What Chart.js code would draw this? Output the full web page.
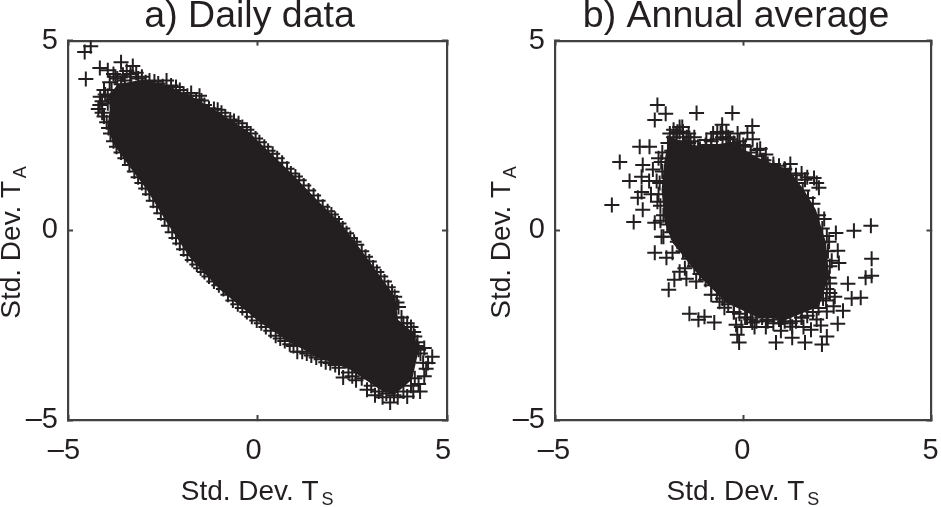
<!DOCTYPE html>
<html><head><meta charset="utf-8">
<script src="https://cdn.jsdelivr.net/npm/chart.js@4/dist/chart.umd.js"></script>
<style>
html,body{margin:0;padding:0;background:#fff;width:941px;height:507px;overflow:hidden}
canvas{position:absolute;top:0}
#c1{left:0}
#c2{left:487px}
</style></head><body>
<canvas id="c1" width="470" height="507"></canvas>
<canvas id="c2" width="454" height="507"></canvas>
<script>
const tickValues = [-5, 0, 5];
const tickLabels = {'-5': '–5', '0': '0', '5': '5'};
const titleA = 'a) Daily data';
const titleB = 'b) Annual average';
const xLabel = 'Std. Dev. T';
const yLabel = 'Std. Dev. T';
const xSub = 'S';
const ySub = 'A';

// Solid, saturated part of each point cloud (outline)
const dailyCoreX = [-3.90,-3.92,-3.69,-3.10,-2.39,-1.70,-0.91,-0.20,0.12,0.86,1.65,2.18,2.79,3.63,3.71,4.11,4.24,4.08,3.60,3.24,2.44,1.57,0.86,0.07,-0.99,-1.78,-2.39,-2.92,-3.37,-3.82,-3.95];
const dailyCoreY = [3.17,3.55,3.85,3.96,3.83,3.51,3.04,2.57,2.25,1.54,0.72,0.20,-0.59,-1.75,-2.36,-2.70,-3.22,-3.93,-4.35,-4.20,-3.67,-3.33,-2.96,-2.43,-1.57,-0.72,0.20,1.07,1.67,2.30,2.78];
const annualCoreX = [-1.96,-1.16,-0.29,0.34,1.22,1.61,1.93,2.20,2.28,2.01,1.14,0.34,-0.45,-1.16,-1.88,-2.09,-2.17,-2.09];
const annualCoreY = [2.46,2.20,2.33,1.93,1.59,1.07,0.54,-0.33,-1.22,-2.01,-2.36,-2.28,-1.91,-1.22,-0.33,0.22,1.07,1.86];

// Individually visible + markers around the rim of each cloud
const dailyX = [-3.60,-3.29,-3.45,-3.05,-3.95,-4.16,-3.80,-3.70,-3.20,-2.85,-2.62,-2.40,-2.15,-1.95,-1.75,-1.53,-1.40,-1.15,-0.95,-0.72,-0.50,-0.28,-0.05,0.18,0.40,0.65,0.88,1.10,1.35,1.60,1.85,2.05,2.25,2.45,2.62,2.85,3.05,3.25,3.45,3.62,3.72,3.60,3.85,4.05,4.15,4.20,4.30,4.61,4.37,4.45,4.29,4.11,4.15,3.95,3.50,3.70,3.30,3.10,2.89,2.60,2.26,2.50,2.05,1.80,1.55,1.30,1.05,0.85,0.60,0.35,0.10,-0.15,-0.40,-0.65,-0.90,-1.15,-1.40,-1.60,-1.85,-2.05,-2.25,-2.45,-2.65,-2.85,-3.05,-3.25,-3.50,-3.72,-3.88,-3.98,-4.10,-4.16,-4.15,-4.05,-4.53,-4.56,-4.40,
-3.75,-3.55,-3.35,-3.15,-2.95,-2.72,-2.50,-2.28,-2.05,-1.85,-1.62,-1.48,-1.28,-1.05,-0.85,-0.62,-0.40,-0.18,0.05,0.28,0.52,0.78,1.00,1.22,1.48,1.72,1.95,2.15,2.35,2.55,2.75,2.95,3.15,3.35,3.55,3.68,3.80,3.95,4.12,4.22,4.25,4.40,4.50,4.40,4.25,4.05,3.85,3.60,3.40,3.20,3.00,2.75,2.40,2.15,1.92,1.68,1.42,1.18,0.95,0.72,0.48,0.22,-0.02,-0.28,-0.52,-0.78,-1.02,-1.28,-1.50,-1.72,-1.95,-2.15,-2.35,-2.55,-2.75,-2.95,-3.15,-3.38,-3.60,-3.80,-3.93,-4.05,-4.20,-4.10,
-3.95,-3.85,-3.80,-3.95,-4.02,-3.70,-3.90,-3.60,-3.50,-3.35];
const dailyY = [4.43,4.33,4.20,4.05,4.22,4.28,4.12,4.00,4.15,3.95,3.87,3.95,3.78,3.60,3.62,3.55,3.30,3.20,3.10,2.92,2.82,2.65,2.42,2.20,2.02,1.78,1.50,1.32,1.05,0.78,0.50,0.30,0.05,-0.20,-0.38,-0.70,-0.98,-1.22,-1.50,-1.75,-2.02,-2.30,-2.45,-2.55,-2.80,-3.05,-3.25,-3.33,-3.49,-3.65,-4.25,-4.25,-3.90,-4.38,-4.54,-4.40,-4.40,-4.35,-4.20,-3.95,-3.88,-3.85,-3.55,-3.48,-3.35,-3.25,-3.20,-3.00,-2.85,-2.65,-2.45,-2.28,-2.05,-1.85,-1.55,-1.35,-1.10,-0.90,-0.65,-0.35,-0.05,0.30,0.62,0.95,1.25,1.55,1.90,2.20,2.55,2.85,3.10,3.30,3.52,3.70,3.99,4.70,4.85,
4.05,4.10,4.12,4.00,3.90,3.92,3.80,3.82,3.70,3.55,3.45,3.42,3.22,3.18,3.00,2.88,2.72,2.55,2.32,2.10,1.90,1.62,1.42,1.18,0.92,0.62,0.42,0.18,-0.08,-0.30,-0.55,-0.82,-1.10,-1.35,-1.62,-1.90,-2.30,-2.45,-2.68,-2.95,-3.15,-3.10,-3.50,-3.85,-4.05,-4.10,-4.25,-4.35,-4.30,-4.25,-4.10,-3.90,-3.75,-3.62,-3.50,-3.40,-3.30,-3.20,-3.05,-2.92,-2.78,-2.55,-2.38,-2.15,-1.95,-1.70,-1.45,-1.22,-1.00,-0.78,-0.50,-0.20,0.12,0.45,0.78,1.10,1.40,1.72,2.05,2.35,2.70,3.00,3.20,3.40,
3.55,3.70,3.45,3.35,3.58,3.60,3.90,3.85,3.95,4.05];

const annualX = [-2.28,-2.06,-2.35,-1.24,-0.29,-0.56,-0.69,0.24,0.11,-2.75,-2.49,-3.28,-2.67,-3.02,-2.70,-2.70,-2.80,-3.49,-2.67,-2.91,-2.17,-1.69,-1.69,-0.98,0.37,3.39,2.94,2.46,2.51,2.54,3.41,3.41,3.25,2.78,3.12,2.88,2.43,2.65,2.22,2.51,2.06,2.22,2.09,1.64,1.30,0.87,1.80,1.30,-0.11,-0.16,-0.19,0.24,0.63,-0.77,-1.19,-1.43,-1.03,-0.50,-0.63,-1.98,-1.83,-1.51,-1.69,-2.04,-2.35,-2.12,-1.88,1.64,1.88,2.01,1.40,1.10,0.80,-2.25,-2.30,-2.28,-2.20,-1.90,-1.55,-1.40,-1.20,-0.85,-0.45,0.00,0.55,2.15,2.28,2.35,2.30,2.20,1.00,1.55,1.05,0.10,-0.25,-0.85,-1.25,-1.55,
-2.15,-2.00,-1.85,-1.75,-1.60,-1.45,-1.30,-1.15,-1.00,-0.85,-0.70,-0.55,-0.40,-0.25,-0.10,0.05,0.20,0.35,0.50,0.65,0.80,0.95,1.10,1.25,1.42,1.58,1.72,1.85,2.00,2.10,
2.22,2.25,2.30,2.28,2.22,2.12,2.00,1.85,1.70,1.55,1.40,1.25,1.10,0.95,0.80,0.65,0.50,0.35,0.20,0.05,-0.10,-0.25,-0.40,-0.55,-0.70,-0.85,-1.00,-1.15,-1.30,-1.45,-1.60,-1.75,-1.90,-2.02,-2.12,-2.20,-2.25,-2.22,-2.15,-2.18,
-1.95,-1.85,-1.78,-1.60,-1.50,-1.62,-1.45,-1.30,-0.80,-0.60,-0.45,-0.35,-0.15,0.25,0.45,0.60,1.25,1.55,1.70,1.95,2.30,2.40,1.95,1.60,1.00,0.60,0.30,-0.05,-2.45,-2.50,-2.40,-2.35];
const annualY = [3.30,3.07,2.91,3.09,3.09,2.78,2.59,2.75,2.57,2.20,2.20,1.80,1.72,1.30,1.41,1.01,0.86,0.67,0.54,0.22,-0.17,2.59,2.72,2.38,2.12,0.12,-0.01,-0.07,-0.54,-0.86,-0.75,-1.20,-1.25,-1.41,-1.78,-1.80,-1.75,-2.12,-2.14,-2.46,-2.51,-2.80,-3.01,-2.96,-2.83,-2.96,-2.62,-2.54,-2.96,-2.75,-2.49,-2.43,-2.36,-2.43,-2.36,-2.20,-2.28,-2.04,-1.88,-1.57,-1.30,-1.28,-1.09,-0.72,-0.59,-0.17,-0.59,1.33,1.38,1.12,1.45,1.62,1.75,1.90,1.30,0.75,0.25,2.10,2.30,2.35,2.20,2.25,2.40,2.25,1.85,0.30,-0.30,-0.80,-1.40,-1.85,-2.45,-2.30,-2.30,-2.30,-2.15,-1.70,-1.35,-1.00,
2.05,2.30,2.45,2.60,2.35,2.30,2.20,2.15,2.25,2.35,2.40,2.45,2.45,2.30,2.35,2.20,2.05,1.95,1.85,1.75,1.65,1.70,1.60,1.50,1.25,1.05,0.85,0.70,0.40,0.05,
-0.15,-0.55,-0.95,-1.25,-1.55,-1.80,-2.05,-2.15,-2.25,-2.30,-2.40,-2.45,-2.40,-2.35,-2.45,-2.40,-2.30,-2.40,-2.35,-2.30,-2.20,-2.15,-1.95,-1.80,-1.70,-1.45,-1.30,-1.15,-0.95,-0.75,-0.55,-0.30,-0.05,0.15,0.40,0.65,0.95,1.25,1.55,1.80,
2.55,2.65,2.55,2.60,2.45,2.72,2.55,2.45,2.55,2.55,2.60,2.40,2.55,2.40,2.15,2.00,1.75,1.50,1.40,1.25,-1.65,-2.00,-2.35,-2.55,-2.65,-2.55,-2.55,-2.55,0.95,1.30,1.60,0.20];

const inkColor = '#231f20';
const frameColor = '#414042';
const toXY = (xs, ys) => xs.map((x, i) => ({x, y: ys[i]}));

const subscript = {
  id: 'subscript',
  afterDraw(chart, args, opts) {
    const {ctx, chartArea: a} = chart;
    const cx = (a.left + a.right) / 2, cy = (a.top + a.bottom) / 2;
    ctx.save();
    ctx.fillStyle = inkColor;
    ctx.font = '18px "Liberation Sans"';
    ctx.textAlign = 'left';
    ctx.textBaseline = 'alphabetic';
    ctx.fillText(opts.x, cx + 64, 505);
    ctx.translate(26 + opts.shift, cy - 52);
    ctx.rotate(-Math.PI / 2);
    ctx.fillText(opts.y, 0, 0);
    ctx.restore();
  }
};

function panel(id, title, coreX, coreY, xs, ys, rightPad, xLabelOffset, yTitleShift) {
  const axisFont = {family: '"Liberation Sans"', size: 29};
  const ticksCommon = {
    color: inkColor, font: axisFont, maxRotation: 0, autoSkip: false,
    callback: v => tickLabels[String(v)] ?? ''
  };
  const setTicks = s => { s.ticks = tickValues.map(value => ({value})); };
  const grid = {drawOnChartArea: false, drawTicks: true, tickLength: -5, tickColor: frameColor, tickWidth: 2};
  const border = {color: frameColor, width: 2.2};
  return new Chart(document.getElementById(id), {
    type: 'scatter',
    plugins: [subscript],
    data: {datasets: [
      {label: 'markers', data: toXY(xs, ys), pointStyle: 'cross', pointRadius: 7.5, pointHoverRadius: 7.5,
       pointBorderColor: inkColor, pointBorderWidth: 2, pointBackgroundColor: inkColor, showLine: false},
      {label: 'dense core', data: toXY(coreX, coreY), pointRadius: 0, showLine: true, borderWidth: 0,
       backgroundColor: inkColor, borderColor: inkColor, fill: 'shape', tension: 0}
    ]},
    options: {
      responsive: false, animation: false, devicePixelRatio: 1,
      layout: {padding: {left: 0, right: rightPad, top: 0, bottom: 0}},
      plugins: {
        legend: {display: false}, tooltip: {enabled: false},
        subscript: {x: xSub, y: ySub, shift: yTitleShift},
        title: {display: true, text: '     ' + title, color: inkColor, padding: {top: 3, bottom: 9.5},
                font: {family: '"Liberation Sans"', size: 37.5, weight: 'normal', lineHeight: 0.75}}
      },
      scales: {
        x: {type: 'linear', position: 'bottom', min: -5, max: 5, grid, border, afterBuildTicks: setTicks,
            afterFit: s => { s.height = 87; s.paddingLeft = 0; s.paddingRight = 0; },
            ticks: {...ticksCommon, padding: 19, labelOffset: xLabelOffset},
            title: {display: true, text: xLabel + '  ', color: inkColor, padding: {top: 4, bottom: 1},
                    font: {family: '"Liberation Sans"', size: 28, lineHeight: 1}}},
        y: {type: 'linear', position: 'left', min: -5, max: 5, grid, border, afterBuildTicks: setTicks,
            afterFit: s => { s.width = 68; s.paddingTop = 0; s.paddingBottom = 0; },
            ticks: {...ticksCommon, padding: 15},
            title: {display: true, text: yLabel + '     ', color: inkColor, padding: {top: yTitleShift, bottom: 0},
                    font: {family: '"Liberation Sans"', size: 28, lineHeight: 0.85}}},
        x2: {type: 'linear', position: 'top', min: -5, max: 5, grid, border, afterBuildTicks: setTicks,
             ticks: {display: false}, afterFit: s => { s.height = 0; s.paddingLeft = 0; s.paddingRight = 0; }},
        y2: {type: 'linear', position: 'right', min: -5, max: 5, grid, border, afterBuildTicks: setTicks,
             ticks: {display: false}, afterFit: s => { s.width = 0; s.paddingTop = 0; s.paddingBottom = 0; }}
      }
    }
  });
}
panel('c1', titleA, dailyCoreX, dailyCoreY, dailyX, dailyY, 23, -4, 0);
panel('c2', titleB, annualCoreX, annualCoreY, annualX, annualY, 8, -1, 3);
</script>
</body></html>
